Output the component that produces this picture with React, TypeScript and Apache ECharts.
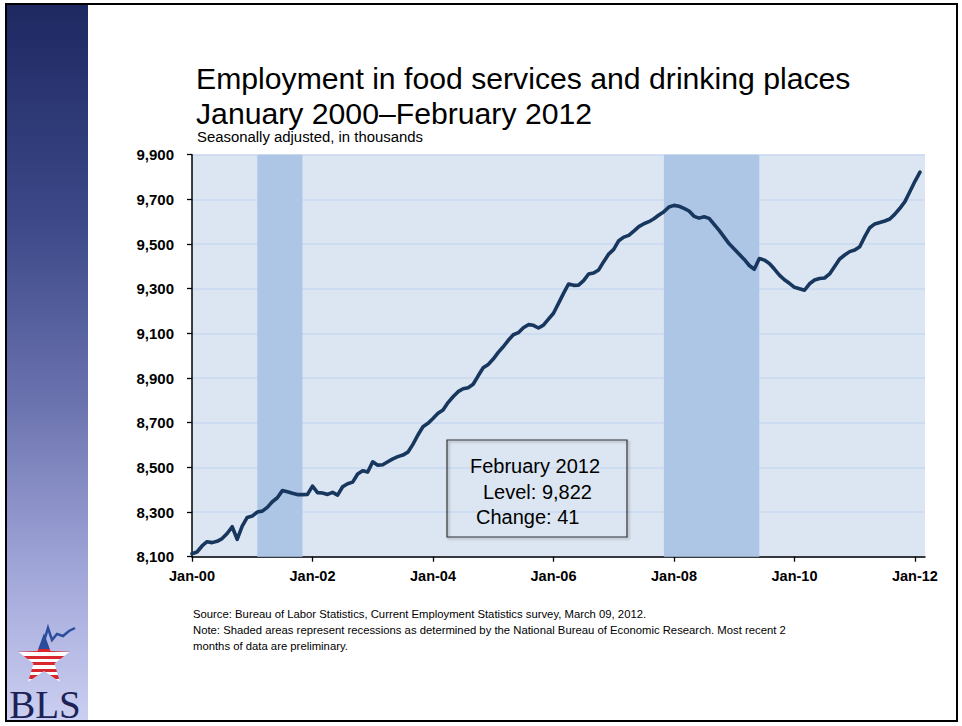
import React, { useEffect, useRef } from "react";
import * as echarts from "echarts";

// ---- Data (thousands, seasonally adjusted) ----
const MONTH_NAMES = ["Jan", "Feb", "Mar", "Apr", "May", "Jun", "Jul", "Aug", "Sep", "Oct", "Nov", "Dec"];
const START_YEAR = 2000;
const AXIS_MONTHS = 147; // Jan-00 .. Mar-12 (axis runs a little past the last point)

const emp2000 = [8113, 8121, 8148, 8167, 8163, 8169, 8181, 8204, 8234, 8178, 8237, 8276];
const emp2001 = [8282, 8300, 8304, 8321, 8346, 8364, 8396, 8391, 8384, 8378, 8378, 8379];
const emp2002 = [8416, 8387, 8385, 8379, 8388, 8376, 8413, 8427, 8434, 8470, 8485, 8479];
const emp2003 = [8525, 8510, 8512, 8525, 8538, 8548, 8555, 8568, 8603, 8645, 8682, 8697];
const emp2004 = [8719, 8742, 8757, 8790, 8816, 8839, 8852, 8857, 8872, 8910, 8946, 8961];
const emp2005 = [8985, 9015, 9040, 9069, 9094, 9103, 9125, 9139, 9136, 9124, 9137, 9164];
const emp2006 = [9190, 9234, 9279, 9321, 9315, 9316, 9336, 9366, 9370, 9384, 9421, 9455];
const emp2007 = [9476, 9515, 9531, 9539, 9558, 9578, 9591, 9600, 9613, 9630, 9645, 9666];
const emp2008 = [9673, 9669, 9660, 9648, 9624, 9616, 9622, 9615, 9588, 9561, 9531, 9501];
const emp2009 = [9478, 9454, 9431, 9404, 9387, 9435, 9428, 9413, 9388, 9361, 9340, 9324];
const emp2010 = [9306, 9300, 9293, 9322, 9339, 9346, 9348, 9366, 9399, 9433, 9451, 9466];
const emp2011 = [9473, 9488, 9533, 9573, 9590, 9596, 9603, 9612, 9634, 9660, 9690, 9735];
const emp2012 = [9781, 9822];

const employment = [
  ...emp2000, ...emp2001, ...emp2002, ...emp2003, ...emp2004, ...emp2005,
  ...emp2006, ...emp2007, ...emp2008, ...emp2009, ...emp2010, ...emp2011, ...emp2012,
];

const Y_MIN = 8100;
const Y_MAX = 9900;
const Y_STEP = 200;
const X_LABEL_EVERY = 24;

const recessionStarts = ["Feb-01", "Nov-07"];
const recessionEnds = ["Nov-01", "Jun-09"];

const titleLines = ["Employment in food services and drinking places", "January 2000\u2013February 2012"];
const subtitle = "Seasonally adjusted, in thousands";
const boxLines = ["February 2012", "Level: 9,822", "Change: 41"];
const noteLines = [
  "Source: Bureau of Labor Statistics, Current Employment Statistics survey, March 09, 2012.",
  "Note: Shaded areas represent recessions as determined by the National Bureau of Economic Research. Most recent 2",
  "months of data are preliminary.",
];

const categories: string[] = [];
for (let i = 0; i < AXIS_MONTHS; i++) {
  const yr = (START_YEAR + Math.floor(i / 12)) % 100;
  categories.push(`${MONTH_NAMES[i % 12]}-${String(yr).padStart(2, "0")}`);
}

function starPoints(cx: number, cy: number, R: number, r: number) {
  const pts: number[][] = [];
  for (let i = 0; i < 10; i++) {
    const a = -Math.PI / 2 + (i * Math.PI) / 5;
    const rad = i % 2 === 0 ? R : r;
    pts.push([cx + rad * Math.cos(a), cy + rad * Math.sin(a)]);
  }
  return pts;
}

function stripeStops() {
  const stops: { offset: number; color: string }[] = [
    { offset: 0, color: "#2b4b9c" },
    { offset: 0.33, color: "#2b4b9c" },
  ];
  let pos = 0.33;
  const h = 0.067;
  let red = true;
  while (pos < 1) {
    const c = red ? "#d9272e" : "#ffffff";
    stops.push({ offset: pos, color: c });
    const next = Math.min(1, pos + h);
    stops.push({ offset: next, color: c });
    pos = next;
    red = !red;
  }
  return stops;
}

export default function App() {
  const ref = useRef<HTMLDivElement>(null);

  useEffect(() => {
    if (!ref.current) return;
    const chart = echarts.init(ref.current, undefined, { renderer: "svg" });
    const labelFont = { fontFamily: "Liberation Sans", fontWeight: "bold" as const, fontSize: 15, color: "#000" };

    const option: any = {
      animation: false,
      backgroundColor: "#ffffff",
      grid: {
        left: 192,
        right: 37,
        top: 154.7,
        bottom: 169.3,
        show: true,
        backgroundColor: "#dce6f2",
        borderWidth: 0,
      },
      xAxis: {
        type: "category",
        data: categories,
        boundaryGap: false,
        axisLine: { lineStyle: { color: "#000", width: 1.5 } },
        axisTick: {
          show: true,
          interval: (i: number) => i % X_LABEL_EVERY === 0,
          length: 5,
          lineStyle: { color: "#000", width: 1.3 },
        },
        axisLabel: {
          ...labelFont,
          fontSize: 14.5,
          interval: (i: number) => i % X_LABEL_EVERY === 0,
          margin: 12,
        },
        splitLine: { show: false },
      },
      yAxis: {
        type: "value",
        min: Y_MIN,
        max: Y_MAX,
        interval: Y_STEP,
        axisLine: { show: true, lineStyle: { color: "#000", width: 1.5 } },
        axisTick: { show: true, length: 5, lineStyle: { color: "#000", width: 1.3 } },
        axisLabel: {
          ...labelFont,
          margin: 18,
          formatter: (v: number) => v.toLocaleString("en-US"),
        },
        splitLine: { show: true, lineStyle: { color: "#c9d9ef", width: 1.5 } },
      },
      series: [
        {
          type: "line",
          data: [],
          z: 1,
          silent: true,
          markArea: {
            silent: true,
            itemStyle: { color: "#aec6e6" },
            data: recessionStarts.map((s, i) => [{ xAxis: s }, { xAxis: recessionEnds[i] }]),
          },
        },
        {
          type: "line",
          data: employment,
          z: 3,
          symbol: "none",
          lineStyle: { color: "#17375e", width: 3.6, cap: "round", join: "round" },
        },
      ],
      graphic: [
        {
          type: "rect",
          z: 50,
          shape: { x: 7, y: 5, width: 81, height: 716 },
          style: {
            fill: new echarts.graphic.LinearGradient(0, 0, 0, 1, [
              { offset: 0, color: "#1e2962" },
              { offset: 0.3, color: "#3c4888" },
              { offset: 0.55, color: "#6a72ae" },
              { offset: 0.8, color: "#a3a8da" },
              { offset: 1, color: "#cbcff1" },
            ]),
          },
        },
        {
          type: "rect",
          z: 60,
          shape: { x: 6, y: 4, width: 951, height: 717 },
          style: { fill: "none", stroke: "#000", lineWidth: 2 },
        },
        {
          type: "polygon",
          z: 55,
          shape: { points: starPoints(44, 660, 27, 11) },
          style: { fill: new echarts.graphic.LinearGradient(0, 0, 0, 1, stripeStops()) },
        },
        {
          type: "polyline",
          z: 56,
          shape: {
            points: [
              [40, 648], [45, 638], [48, 628], [52, 640], [57, 634], [63, 636], [69, 631], [75, 628],
            ],
          },
          style: { stroke: "#2b4d9e", lineWidth: 2.5, fill: "none" },
        },
        {
          type: "text",
          z: 55,
          x: 45,
          y: 704,
          style: {
            text: "BLS",
            fontFamily: "Liberation Serif",
            fontSize: 39,
            fill: "#1c2255",
            align: "center",
            textAlign: "center",
            verticalAlign: "middle",
            textVerticalAlign: "middle",
          },
        },
        ...titleLines.map((t, i) => ({
          type: "text",
          z: 20,
          x: 196,
          y: 78 + i * 35,
          style: {
            text: t,
            fontFamily: "Liberation Sans",
            fontSize: 30.2,
            fill: "#000",
            verticalAlign: "middle",
            textVerticalAlign: "middle",
          },
        })),
        {
          type: "text",
          z: 20,
          x: 197,
          y: 137,
          style: {
            text: subtitle,
            fontFamily: "Liberation Sans",
            fontSize: 14.9,
            fill: "#000",
            verticalAlign: "middle",
            textVerticalAlign: "middle",
          },
        },
        {
          type: "rect",
          z: 20,
          shape: { x: 447, y: 440, width: 180, height: 97 },
          style: {
            fill: "none",
            stroke: "#333",
            lineWidth: 1.2,
            shadowBlur: 2,
            shadowOffsetX: 1.5,
            shadowOffsetY: 1.5,
            shadowColor: "rgba(0,0,0,0.35)",
          },
        },
        ...boxLines.map((t, i) => ({
          type: "text",
          z: 21,
          x: [470, 483, 476][i],
          y: 466 + i * 25.5,
          style: {
            text: t,
            fontFamily: "Liberation Sans",
            fontSize: 20,
            fill: "#000",
            verticalAlign: "middle",
            textVerticalAlign: "middle",
          },
        })),
        ...noteLines.map((t, i) => ({
          type: "text",
          z: 20,
          x: 193,
          y: 614 + i * 16,
          style: {
            text: t,
            fontFamily: "Liberation Sans",
            fontSize: 11.3,
            fill: "#000",
            verticalAlign: "middle",
            textVerticalAlign: "middle",
          },
        })),
      ],
    };

    chart.setOption(option);
    return () => chart.dispose();
  }, []);

  return (
    <div
      ref={ref}
      style={{ position: "fixed", left: 0, top: 0, width: 962, height: 726, background: "#fff" }}
    />
  );
}
